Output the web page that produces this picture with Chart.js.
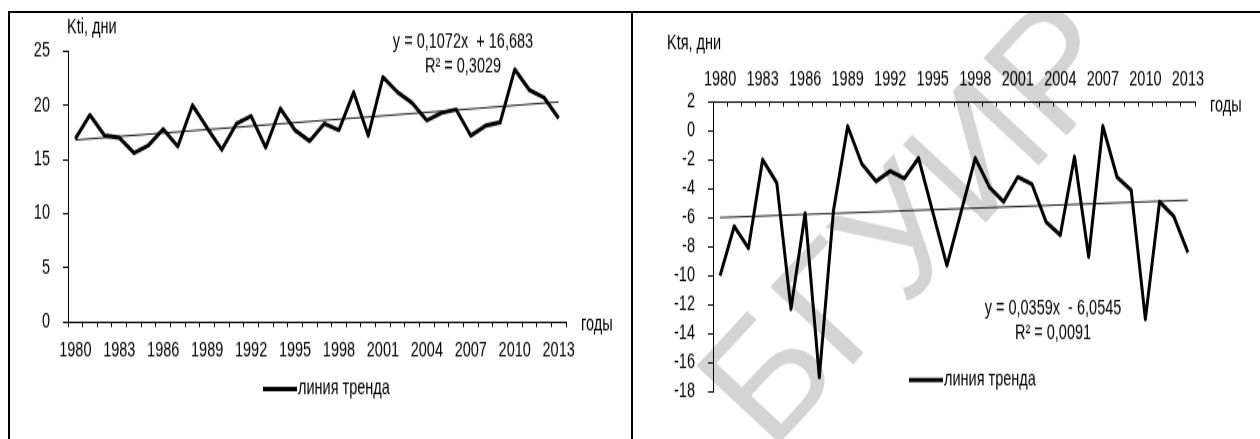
<!DOCTYPE html>
<html>
<head>
<meta charset="utf-8">
<script src="https://cdn.jsdelivr.net/npm/chart.js@4.4.0/dist/chart.umd.min.js"></script>
<style>
  body { margin: 0; background: #fff; }
  #page { position: relative; width: 1260px; height: 439px; overflow: hidden; background: #fff; }
  .rule { position: absolute; background: #000; }
  .box { position: absolute; transform-origin: 0 0; }
  .box canvas { display: block; }
</style>
</head>
<body>
<div id="page">
  <div class="rule" style="left:8px;top:11px;width:1252px;height:2px"></div>
  <div class="rule" style="left:8px;top:11px;width:2px;height:428px"></div>
  <div class="rule" style="left:631px;top:11px;width:2px;height:428px"></div>
  <div class="box" id="leftBox" style="left:10px;top:13px"><canvas id="leftChart" width="621" height="294"></canvas></div>
  <div class="box" id="rightBox" style="left:633px;top:13px"><canvas id="rightChart" width="627" height="294"></canvas></div>
</div>
<script>
// years on the x axis
const years = ["1980", "1981", "1982", "1983", "1984", "1985", "1986", "1987", "1988", "1989",
  "1990", "1991", "1992", "1993", "1994", "1995", "1996", "1997", "1998", "1999",
  "2000", "2001", "2002", "2003", "2004", "2005", "2006", "2007", "2008", "2009",
  "2010", "2011", "2012", "2013"];
// only every third year is labelled
const shownYears = ["1980", "1983", "1986", "1989", "1992", "1995", "1998", "2001", "2004", "2007", "2010", "2013"];

// Kti, days
const ktiValues = [16.9, 19.1, 17.2, 17.0, 15.6, 16.3, 17.8, 16.2, 20.0, 17.9,
  15.9, 18.3, 19.0, 16.1, 19.7, 17.7, 16.7, 18.3, 17.7, 21.2,
  17.2, 22.6, 21.2, 20.2, 18.6, 19.3, 19.6, 17.2, 18.1, 18.4,
  23.3, 21.4, 20.7, 18.8];
const ktiTrend = [16.8, 20.3];   // trend line at 1980 and 2013

// Ktя, days
const ktyaValues = [-10.0, -6.6, -8.1, -2.0, -3.6, -12.3, -5.7, -17.0, -5.5, 0.3,
  -2.3, -3.5, -2.8, -3.3, -1.9, -5.6, -9.3, -5.6, -1.9, -3.9,
  -4.9, -3.2, -3.7, -6.3, -7.2, -1.8, -8.7, 0.3, -3.2, -4.1,
  -13.0, -4.9, -5.9, -8.4];
const ktyaTrend = [-6.0, -4.8];

// the original picture is stretched vertically, so the canvases are too
const S = 426 / 294;
document.getElementById("leftBox").style.transform = "scaleY(" + S + ")";
document.getElementById("rightBox").style.transform = "scaleY(" + S + ")";
const v = y => y / S;

const FONT = "'Liberation Sans', Arial, sans-serif";
const FS = 14.5;
const LEGEND_TEXT = "линия тренда";

const textPlugin = {
  id: "texts",
  beforeDraw(chart, args, opts) {
    if (!opts.watermark) return;
    const w = opts.watermark;
    const ctx = chart.ctx;
    ctx.save();
    ctx.translate(w.x, w.y);
    ctx.scale(1, 1 / S);
    ctx.rotate(-47 * Math.PI / 180);
    ctx.font = "165px " + FONT;
    ctx.fillStyle = "#d4d4d4";
    ctx.textAlign = "center";
    ctx.textBaseline = "middle";
    ctx.fillText(w.text, 0, 0);
    ctx.restore();
  },
  afterDraw(chart, args, opts) {
    const ctx = chart.ctx;
    ctx.save();
    ctx.fillStyle = "#000";
    ctx.font = FS + "px " + FONT;
    ctx.textBaseline = "middle";
    (opts.labels || []).forEach(l => {
      ctx.textAlign = l.align || "left";
      ctx.fillText(l.text, l.x, l.y);
    });
    const lg = opts.legend;
    if (lg) {
      ctx.strokeStyle = "#000";
      ctx.lineWidth = 3;
      ctx.beginPath();
      ctx.moveTo(lg.x, lg.y);
      ctx.lineTo(lg.x + 34, lg.y);
      ctx.stroke();
      ctx.textAlign = "left";
      ctx.fillText(chart.data.datasets[0].label, lg.x + 35, lg.y);
    }
    ctx.restore();
  }
};

function makeChart(id, values, trend, cfg) {
  return new Chart(id, {
    type: "line",
    data: {
      labels: years,
      datasets: [
        {
          label: LEGEND_TEXT,
          data: values,
          borderColor: "#000",
          borderWidth: 3,
          borderJoinStyle: "round",
          pointRadius: 0,
          tension: 0
        },
        {
          label: "trend",
          data: [{ x: years[0], y: trend[0] }, { x: years[years.length - 1], y: trend[1] }],
          borderColor: "#1e1e1e",
          borderWidth: 1,
          pointRadius: 0
        }
      ]
    },
    options: {
      responsive: false,
      animation: false,
      layout: { padding: cfg.padding },
      plugins: {
        legend: { display: false },
        tooltip: { enabled: false },
        texts: cfg.texts
      },
      scales: {
        x: {
          position: cfg.xPosition,
          offset: true,
          grid: { display: true, drawOnChartArea: false, offset: true, tickLength: cfg.xTickLength, color: "#000", lineWidth: 1 },
          border: { display: true, color: "#000", width: 1 },
          ticks: {
            autoSkip: false,
            maxRotation: 0,
            padding: cfg.xPad,
            color: "#000",
            font: { family: FONT, size: FS },
            callback: function (val, i) {
              const y = years[i];
              return shownYears.includes(y) ? y : "";
            }
          },
          afterFit: s => { s.height = 30; }
        },
        y: {
          min: cfg.yMin,
          max: cfg.yMax,
          grid: { display: true, drawOnChartArea: false, tickLength: 5, color: "#000", lineWidth: 1 },
          border: { display: true, color: "#000", width: 1 },
          ticks: {
            stepSize: cfg.yStep,
            autoSkip: false,
            padding: 13,
            color: "#000",
            font: { family: FONT, size: FS }
          },
          afterFit: s => { s.width = cfg.yWidth; }
        }
      }
    },
    plugins: [textPlugin]
  });
}

makeChart("leftChart", ktiValues, ktiTrend, {
  padding: { left: 10, right: 65, top: v(38), bottom: 294 - v(309) - 30 },
  xPosition: "bottom",
  xTickLength: 3.5,
  xPad: 7.2,
  yMin: 0, yMax: 25, yStep: 5, yWidth: 48,
  texts: {
    labels: [
      { text: "Kti, дни", x: 57, y: v(15) },
      { text: "годы", x: 571, y: v(312) },
      { text: "y = 0,1072x  + 16,683", x: 453, y: v(29), align: "center" },
      { text: "R² = 0,3029", x: 453, y: v(54), align: "center" }
    ],
    legend: { x: 253, y: v(376) }
  }
});

makeChart("rightChart", ktyaValues, ktyaTrend, {
  padding: { left: 10, right: 65, top: v(88.5) - 30, bottom: 294 - v(378.7) },
  xPosition: "top",
  xTickLength: -3.5,
  xPad: 10.3,
  yMin: -18, yMax: 2, yStep: 2, yWidth: 70,
  texts: {
    watermark: { text: "БГУИР", x: 285, y: v(215) },
    labels: [
      { text: "Ktя, дни", x: 34, y: v(31) },
      { text: "годы", x: 577, y: v(93) },
      { text: "y = 0,0359x  - 6,0545", x: 420, y: v(295), align: "center" },
      { text: "R² = 0,0091", x: 420, y: v(320), align: "center" }
    ],
    legend: { x: 276, y: v(367) }
  }
});
</script>
</body>
</html>
